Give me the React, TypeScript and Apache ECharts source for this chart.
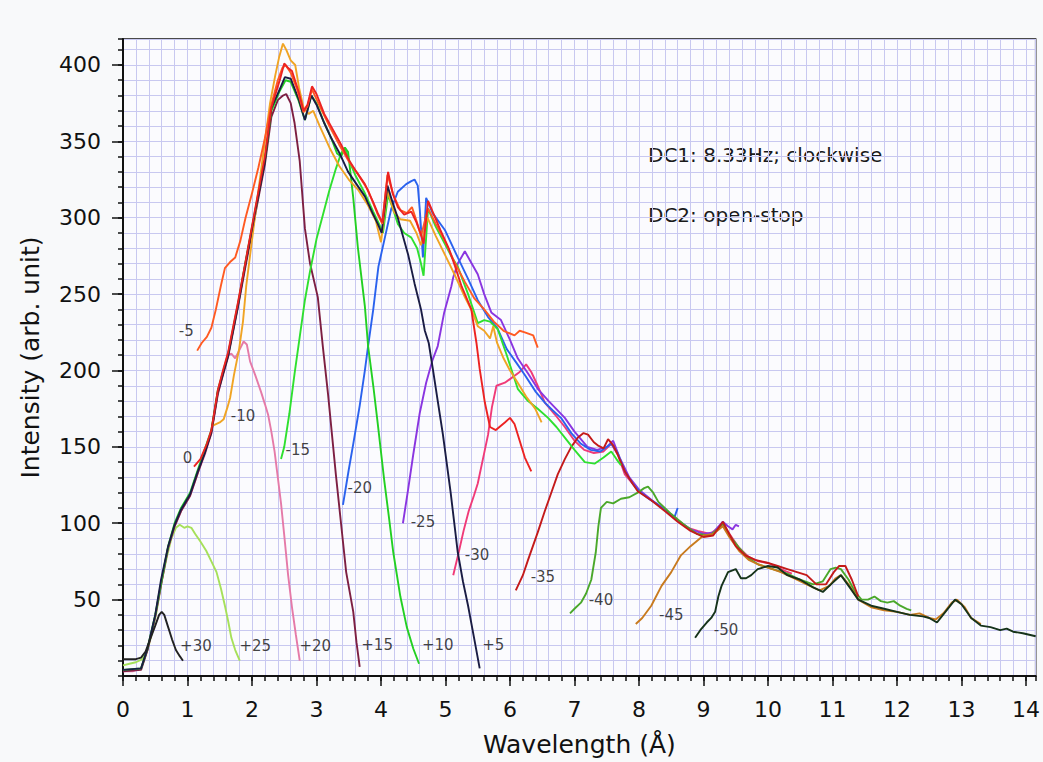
import { useEffect, useRef } from 'react';
import * as echarts from 'echarts';

// ---- tick values ----
const xTickLabels = [0, 1, 2, 3, 4, 5, 6, 7, 8, 9, 10, 11, 12, 13, 14];
const yTickLabels = [50, 100, 150, 200, 250, 300, 350, 400];
const xRange = [0, 14.15];
const yRange = [0, 417];

// ---- curves: [wavelength (Å), intensity] ----
const plus30 = [[0,11],[0.1,11],[0.2,11],[0.28,12],[0.35,16],[0.42,24],[0.5,33],[0.56,40],[0.6,42],[0.64,40],[0.7,32],[0.76,24],[0.82,17],[0.88,13],[0.93,10]];
const plus25 = [[0,7],[0.1,8],[0.2,9],[0.3,11],[0.38,17],[0.45,28],[0.52,42],[0.6,62],[0.68,78],[0.75,90],[0.82,97],[0.88,99],[0.95,97],[1.0,98],[1.06,97],[1.12,93],[1.2,88],[1.29,82],[1.37,75],[1.45,68],[1.52,57],[1.58,46],[1.63,36],[1.68,25],[1.74,17],[1.81,10]];
const plus20 = [[0,3],[0.15,3],[0.28,5],[0.38,17],[0.5,39],[0.6,62],[0.7,84],[0.8,98],[0.9,108],[1.04,118],[1.16,133],[1.27,145],[1.37,159],[1.47,184],[1.56,200],[1.63,210],[1.68,211],[1.74,208],[1.8,213],[1.87,219],[1.92,217],[1.97,206],[2.05,197],[2.14,186],[2.2,178],[2.25,171],[2.3,160],[2.35,147],[2.4,130],[2.45,113],[2.5,92],[2.56,66],[2.62,45],[2.68,27],[2.74,10]];
const plus15 = [[0,3],[0.28,4],[0.38,17],[0.5,39],[0.6,62],[0.7,84],[0.8,98],[0.9,108],[1.04,118],[1.16,133],[1.37,159],[1.47,185],[1.63,209],[1.78,241],[1.89,266],[2.05,302],[2.2,335],[2.3,366],[2.4,377],[2.48,380],[2.53,381],[2.6,375],[2.66,362],[2.74,337],[2.82,293],[2.9,270],[3.02,248],[3.1,215],[3.18,184],[3.3,132],[3.38,100],[3.46,68],[3.57,42],[3.62,22],[3.67,6]];
const plus10 = [[0,4],[0.28,5],[0.38,18],[0.5,40],[0.6,63],[0.7,85],[0.8,100],[0.9,110],[1.04,120],[1.16,135],[1.37,161],[1.47,187],[1.63,211],[1.78,243],[1.89,269],[2.05,305],[2.2,338],[2.3,370],[2.43,383],[2.52,390],[2.6,389],[2.72,377],[2.82,364],[2.92,380],[3.0,375],[3.12,362],[3.23,352],[3.32,342],[3.38,340],[3.44,346],[3.49,343],[3.57,313],[3.64,281],[3.75,242],[3.8,216],[3.88,190],[3.95,165],[4.05,128],[4.12,105],[4.19,81],[4.3,52],[4.4,32],[4.5,18],[4.59,8]];
const plus5 = [[0,4],[0.28,5],[0.38,18],[0.5,40],[0.59,63],[0.7,85],[0.8,99],[0.9,109],[1.04,119],[1.16,134],[1.27,146],[1.37,160],[1.47,186],[1.55,198],[1.63,210],[1.78,242],[1.89,268],[2.05,304],[2.2,337],[2.3,372],[2.43,384],[2.51,392],[2.6,391],[2.72,378],[2.82,364],[2.92,380],[3.0,374],[3.12,362],[3.23,352],[3.36,342],[3.49,330],[3.62,322],[3.75,314],[3.88,302],[3.95,296],[4.01,290],[4.1,321],[4.18,310],[4.26,300],[4.42,276],[4.52,257],[4.62,240],[4.68,226],[4.74,218],[4.8,202],[4.88,180],[4.96,158],[5.08,120],[5.19,81],[5.27,62],[5.35,46],[5.46,21],[5.53,5]];
const zero = [[1.1,137],[1.2,142],[1.3,152],[1.37,161],[1.47,187],[1.55,200],[1.63,212],[1.78,244],[1.89,269],[2.05,306],[2.2,340],[2.3,372],[2.43,390],[2.5,401],[2.56,398],[2.62,396],[2.72,383],[2.8,370],[2.86,374],[2.93,386],[3.0,381],[3.12,368],[3.25,358],[3.38,348],[3.5,338],[3.62,330],[3.75,322],[3.88,310],[3.95,303],[4.02,297],[4.11,330],[4.18,316],[4.26,307],[4.36,302],[4.47,304],[4.55,297],[4.62,289],[4.66,283],[4.73,311],[4.82,302],[4.92,292],[5.05,280],[5.15,268],[5.25,255],[5.4,240],[5.48,218],[5.53,201],[5.61,179],[5.69,163],[5.78,161],[5.92,166],[6.0,169],[6.07,165],[6.15,154],[6.23,143],[6.33,134]];
const minus5 = [[1.15,213],[1.22,218],[1.3,222],[1.37,228],[1.44,240],[1.52,256],[1.58,267],[1.66,271],[1.74,274],[1.82,285],[1.9,300],[2.0,316],[2.1,333],[2.2,352],[2.3,374],[2.4,390],[2.47,398],[2.52,400],[2.6,395],[2.7,384],[2.8,369],[2.86,373],[2.93,384],[3.05,373],[3.2,360],[3.35,348],[3.5,337],[3.65,328],[3.8,318],[3.95,302],[4.02,296],[4.1,328],[4.2,314],[4.3,305],[4.4,303],[4.48,307],[4.55,298],[4.62,288],[4.73,306],[4.85,296],[5.0,284],[5.15,270],[5.3,258],[5.45,247],[5.6,240],[5.75,232],[5.9,226],[6.07,223],[6.15,226],[6.23,225],[6.36,223],[6.43,215]];
const minus10 = [[1.4,164],[1.5,166],[1.56,168],[1.62,176],[1.66,182],[1.72,197],[1.8,214],[1.86,232],[1.91,255],[1.96,272],[2.02,292],[2.1,318],[2.2,350],[2.28,375],[2.36,393],[2.42,405],[2.48,414],[2.53,410],[2.6,403],[2.67,400],[2.73,385],[2.8,372],[2.88,368],[2.95,370],[3.05,360],[3.2,346],[3.35,334],[3.5,325],[3.65,318],[3.8,308],[3.92,298],[4.0,284],[4.1,318],[4.2,304],[4.3,299],[4.45,298],[4.55,290],[4.62,282],[4.72,300],[4.85,288],[5.0,275],[5.15,262],[5.3,248],[5.42,238],[5.5,229],[5.6,226],[5.69,221],[5.74,229],[5.8,218],[5.9,208],[6.0,200],[6.12,192],[6.25,183],[6.39,175],[6.49,166]];
const minus15 = [[2.45,142],[2.5,150],[2.58,172],[2.66,198],[2.74,222],[2.82,246],[2.9,265],[3.0,286],[3.1,302],[3.2,318],[3.3,332],[3.38,342],[3.44,346],[3.5,338],[3.6,328],[3.75,316],[3.88,304],[3.97,296],[4.03,290],[4.11,315],[4.2,304],[4.26,296],[4.36,290],[4.47,287],[4.56,280],[4.62,270],[4.66,262],[4.73,306],[4.85,294],[4.99,283],[5.1,274],[5.19,268],[5.35,250],[5.5,231],[5.6,233],[5.69,232],[5.81,227],[5.95,210],[6.12,188],[6.28,180],[6.43,175],[6.59,169],[6.72,163],[6.85,156],[7.0,148],[7.16,140],[7.31,139],[7.45,143],[7.57,147],[7.65,142],[7.72,138]];
const minus20 = [[3.41,112],[3.5,135],[3.57,152],[3.67,177],[3.75,200],[3.8,216],[3.88,240],[3.96,268],[4.06,287],[4.16,306],[4.26,317],[4.39,322],[4.47,324],[4.52,325],[4.57,321],[4.6,306],[4.63,287],[4.65,274],[4.7,313],[4.8,303],[4.99,292],[5.19,274],[5.35,260],[5.5,246],[5.66,235],[5.8,228],[5.95,214],[6.1,205],[6.23,197],[6.4,186],[6.54,179],[6.66,174],[6.79,169],[6.95,159],[7.1,152],[7.25,148],[7.4,147],[7.57,152],[7.67,146],[7.78,134],[7.9,126],[8.0,121],[8.15,116],[8.3,112],[8.45,107],[8.55,104],[8.6,110]];
const minus25 = [[4.34,100],[4.42,122],[4.5,145],[4.6,172],[4.7,192],[4.8,207],[4.88,216],[4.98,238],[5.09,255],[5.12,261],[5.19,270],[5.3,278],[5.38,272],[5.5,263],[5.6,250],[5.71,238],[5.86,233],[6.0,220],[6.12,208],[6.28,198],[6.43,188],[6.6,180],[6.85,169],[7.0,160],[7.2,150],[7.35,148],[7.5,150],[7.6,154],[7.7,143],[7.85,130],[8.0,122],[8.2,115],[8.4,109],[8.6,102],[8.8,96],[9.0,93],[9.15,94],[9.3,101],[9.38,98],[9.45,96],[9.5,99],[9.55,98]];
const minus30 = [[5.12,66],[5.2,80],[5.28,95],[5.36,108],[5.44,118],[5.5,126],[5.58,142],[5.66,158],[5.72,176],[5.79,190],[5.92,192],[6.02,195],[6.15,199],[6.25,204],[6.33,199],[6.43,190],[6.54,179],[6.7,171],[6.85,163],[7.0,154],[7.15,148],[7.3,146],[7.45,147],[7.57,152],[7.67,145],[7.78,132],[7.98,122],[8.19,115],[8.4,109],[8.6,102],[8.76,97],[8.91,95],[9.1,93],[9.3,99],[9.42,92],[9.55,84],[9.7,78],[9.85,75],[10.0,74],[10.1,72],[10.25,69],[10.37,67]];
const minus35 = [[6.09,56],[6.2,66],[6.28,76],[6.43,94],[6.54,108],[6.64,120],[6.74,132],[6.85,142],[6.95,150],[7.05,156],[7.14,159],[7.21,158],[7.3,153],[7.36,151],[7.45,149],[7.52,155],[7.6,151],[7.67,145],[7.78,134],[7.9,126],[7.98,121],[8.19,115],[8.4,108],[8.6,101],[8.8,95],[9.0,91],[9.15,92],[9.3,101],[9.4,93],[9.5,85],[9.65,79],[9.8,76],[10.0,74],[10.15,72],[10.3,70],[10.45,68],[10.6,66],[10.75,60],[10.9,60],[11.02,68],[11.1,72],[11.2,72],[11.3,63],[11.4,52]];
const minus40 = [[6.93,41],[7.0,44],[7.1,48],[7.18,54],[7.26,63],[7.33,81],[7.37,98],[7.41,110],[7.5,114],[7.6,113],[7.72,116],[7.85,117],[7.98,120],[8.08,123],[8.14,124],[8.22,120],[8.3,114],[8.5,106],[8.7,99],[8.9,93],[9.1,92],[9.22,96],[9.3,100],[9.4,92],[9.55,84],[9.7,77],[9.85,73],[10.0,71],[10.15,69],[10.3,67],[10.5,63],[10.7,60],[10.85,62],[10.97,70],[11.05,71],[11.13,70],[11.25,63],[11.35,55],[11.45,50],[11.55,50],[11.65,52],[11.75,49],[11.85,48],[11.95,49],[12.05,46],[12.15,44],[12.22,43]];
const minus45 = [[7.95,34],[8.05,38],[8.19,46],[8.35,59],[8.5,68],[8.65,79],[8.8,85],[9.0,92],[9.15,93],[9.3,98],[9.4,91],[9.55,82],[9.7,76],[9.85,73],[10.0,71],[10.2,68],[10.4,64],[10.6,60],[10.8,56],[10.95,59],[11.05,64],[11.13,66],[11.25,60],[11.4,50],[11.6,45],[11.8,43],[12.0,42],[12.2,40],[12.35,41],[12.5,38],[12.6,37],[12.72,41],[12.85,48],[12.93,50],[13.05,45],[13.15,38],[13.3,34]];
const minus50 = [[8.87,25],[8.95,30],[9.05,35],[9.12,38],[9.18,42],[9.23,52],[9.28,59],[9.38,68],[9.5,70],[9.58,64],[9.66,64],[9.74,66],[9.84,70],[10.0,72],[10.15,71],[10.3,66],[10.5,63],[10.7,58],[10.85,55],[11.0,61],[11.13,66],[11.25,59],[11.4,50],[11.6,46],[11.8,44],[12.0,42],[12.2,40],[12.4,39],[12.5,38],[12.62,35],[12.75,42],[12.9,50],[13.0,47],[13.15,38],[13.3,33],[13.45,32],[13.6,30],[13.7,31],[13.8,29],[13.95,28],[14.05,27],[14.15,26]];

// ---- curve labels: [x, y, text] ----
const curveLabels = [
  [0.98, 226, '-5'], [1.86, 170, '-10'], [1.0, 143, '0'], [2.71, 148, '-15'],
  [3.67, 123, '-20'], [4.65, 101, '-25'], [5.49, 79, '-30'], [6.51, 64.5, '-35'],
  [7.41, 49.7, '-40'], [8.5, 40, '-45'], [9.35, 30, '-50'],
  [1.13, 19.4, '+30'], [2.05, 19.4, '+25'], [2.98, 19.4, '+20'],
  [3.94, 20, '+15'], [4.88, 20, '+10'], [5.74, 20, '+5'],
];

const annotations = ['DC1: 8.33Hz; clockwise', 'DC2: open-stop'];

// drawing order (bottom to top) with colours
const curves: [string, number[][], string][] = [
  ['+25', plus25, '#a6e05a'],
  ['+20', plus20, '#e57aa8'],
  ['-30', minus30, '#f03a78'],
  ['-25', minus25, '#8a35e0'],
  ['-20', minus20, '#2a62ee'],
  ['-40', minus40, '#4aa82a'],
  ['-45', minus45, '#c87a1e'],
  ['-35', minus35, '#c41a1a'],
  ['+15', plus15, '#7d1f42'],
  ['-15', minus15, '#2fe02f'],
  ['+10', plus10, '#22d022'],
  ['-10', minus10, '#f0a424'],
  ['+5', plus5, '#1a1c44'],
  ['-5', minus5, '#ff5a22'],
  ['0', zero, '#ec2222'],
  ['-50', minus50, '#16331a'],
  ['+30', plus30, '#222222'],
];

const FONT = 'DejaVu Sans';

export default function App() {
  const ref = useRef<HTMLDivElement>(null);
  useEffect(() => {
    document.body.style.margin = '0';
    document.body.style.background = '#f8f9fa';
    const chart = echarts.init(ref.current!, null, { renderer: 'svg' });
    const gridLine = { color: '#c8c8f0', width: 1 };
    const option: any = {
      animation: false,
      grid: {
        left: 123, right: 5, top: 39, bottom: 77,
        show: true, borderColor: '#111', borderWidth: 1.5, backgroundColor: '#fbfbfe',
      },
      xAxis: [
        {
          type: 'value', min: xRange[0], max: xRange[1], interval: 0.2,
          axisLine: { show: true, lineStyle: { color: '#111', width: 2 } },
          axisTick: { show: true, length: 5, lineStyle: { color: '#111', width: 1.5 } },
          axisLabel: { show: false },
          splitLine: { show: true, lineStyle: gridLine },
        },
        {
          type: 'value', position: 'bottom', min: xRange[0], max: xRange[1],
          axisLine: { show: false },
          axisTick: { show: true, length: 10, customValues: xTickLabels, lineStyle: { color: '#111', width: 1.5 } },
          axisLabel: { show: true, customValues: xTickLabels, margin: 22, fontSize: 22, fontFamily: FONT, color: '#111' },
          splitLine: { show: false },
          name: 'Wavelength (Å)', nameLocation: 'middle', nameGap: 56,
          nameTextStyle: { fontSize: 25, fontFamily: FONT, color: '#111' },
        },
      ],
      yAxis: [
        {
          type: 'value', position: 'left', min: yRange[0], max: yRange[1], interval: 10,
          axisLine: { show: true, lineStyle: { color: '#111', width: 2 } },
          axisTick: { show: true, length: 5, lineStyle: { color: '#111', width: 1.5 } },
          axisLabel: { show: false },
          splitLine: { show: true, lineStyle: gridLine },
        },
        {
          type: 'value', position: 'left', min: yRange[0], max: yRange[1],
          axisLine: { show: false },
          axisTick: { show: true, length: 11, customValues: yTickLabels, lineStyle: { color: '#111', width: 1.5 } },
          axisLabel: { show: true, customValues: yTickLabels, margin: 22, fontSize: 22, fontFamily: FONT, color: '#111' },
          splitLine: { show: false },
          name: 'Intensity (arb. unit)', nameLocation: 'middle', nameGap: 80,
          nameTextStyle: { fontSize: 25, fontFamily: FONT, color: '#111' },
        },
      ],
      series: [
        ...curves.map(([name, data, color]) => ({
          name, type: 'line', data, showSymbol: false, symbol: 'none',
          lineStyle: { color, width: 1.9 }, silent: true,
        })),
        {
          type: 'scatter', data: curveLabels, symbolSize: 2, z: 10,
          itemStyle: { color: 'rgba(0,0,0,0)' }, silent: true,
          label: {
            show: true, position: 'inside', formatter: (p: any) => p.data[2],
            fontSize: 15, fontFamily: FONT, color: '#111',
          },
        },
      ],
      graphic: annotations.map((t, i) => ({
        type: 'text', left: 648, top: 145 + i * 60,
        style: { text: t, fontSize: 20, fontFamily: FONT, fill: '#1a1a1a' },
      })),
    };
    chart.setOption(option);
    return () => chart.dispose();
  }, []);
  return <div ref={ref} style={{ width: 1043, height: 762 }} />;
}
